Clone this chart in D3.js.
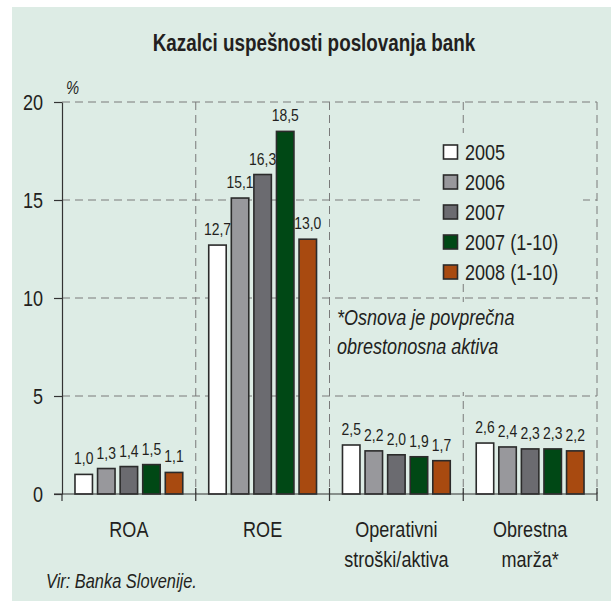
<!DOCTYPE html>
<html>
<head>
<meta charset="utf-8">
<script src="https://cdn.jsdelivr.net/npm/d3@7"></script>
<style>
  html, body { margin: 0; padding: 0; background: #ffffff; }
  svg { display: block; }
  text { font-family: "Liberation Sans", Arial, sans-serif; fill: #231f20; }
</style>
</head>
<body>
<script>
// ---- data ----
const categories = ["ROA", "ROE", "Operativni\nstroški/aktiva", "Obrestna\nmarža*"];
const seriesNames = ["2005", "2006", "2007", "2007 (1-10)", "2008 (1-10)"];
const values2005 = [1.0, 12.7, 2.5, 2.6];
const values2006 = [1.3, 15.1, 2.2, 2.4];
const values2007 = [1.4, 16.3, 2.0, 2.3];
const values2007p = [1.5, 18.5, 1.9, 2.3];
const values2008p = [1.1, 13.0, 1.7, 2.2];
const yTicks = [0, 5, 10, 15, 20];
const seriesColors = ["#ffffff", "#98989c", "#6b6b70", "#004815", "#a84a10"];
const titleText = "Kazalci uspešnosti poslovanja bank";
const noteLines = ["*Osnova je povprečna", "obrestonosna aktiva"];
const sourceText = "Vir: Banka Slovenije.";

const seriesValues = [values2005, values2006, values2007, values2007p, values2008p];

const W = 611, H = 601;
const NARROW = 0.82;
const bg = "#ddece5";
const svg = d3.select("body").append("svg").attr("width", W).attr("height", H);

// condensed text helper (horizontal squeeze to mimic a narrow face)
function ntext(parent, x, y, str, size, opts = {}) {
  const t = parent.append("text")
    .attr("transform", `translate(${x},${y}) scale(${NARROW},1)`)
    .attr("text-anchor", opts.anchor || "start")
    .style("font-size", size + "px")
    .text(str);
  if (opts.bold) t.style("font-weight", "bold");
  if (opts.italic) t.style("font-style", "italic");
  return t;
}

svg.append("rect").attr("x", 12).attr("y", 7).attr("width", W - 12).attr("height", H - 7).attr("fill", bg);

const x0 = d3.scaleBand().domain(categories).range([62, 597]).paddingInner(0).paddingOuter(0);
const x1 = d3.scaleBand().domain(seriesNames).range([0, x0.bandwidth()]).paddingInner(0.226).paddingOuter(0.575);
const y = d3.scaleLinear().domain([0, 20]).range([494, 102]);

const loc = d3.formatLocale({decimal: ",", thousands: ".", grouping: [3], currency: ["", "€"]});
const fmt = loc.format(".1f");

// title
ntext(svg, 314, 51, titleText, 23, {anchor: "middle", bold: true});

// gridlines
const grid = svg.append("g");
yTicks.filter(d => d > 0).forEach(t => {
  grid.append("line").attr("x1", 62).attr("x2", 597).attr("y1", y(t)).attr("y2", y(t))
    .attr("stroke", "#7a7a7a").attr("stroke-width", 1).attr("stroke-dasharray", "8,5");
});
const bounds = categories.map(c => x0(c) + x0.bandwidth());
bounds.forEach(bx => {
  grid.append("line").attr("x1", bx).attr("x2", bx).attr("y1", y(20)).attr("y2", y(0))
    .attr("stroke", "#7a7a7a").attr("stroke-width", 1).attr("stroke-dasharray", "8,5");
});

// legend & note backgrounds (hide grid)
svg.append("rect").attr("x", 420).attr("y", 133).attr("width", 163).attr("height", 147).attr("fill", bg);
svg.append("rect").attr("x", 334).attr("y", 302).attr("width", 252).attr("height", 90).attr("fill", bg);

// value labels (drawn beneath bars)
const flat = categories.map((c, ci) => seriesNames.map((s, si) => ({cat: c, ser: s, val: seriesValues[si][ci], si}))).flat();
const lblG = svg.append("g");
flat.forEach(d => {
  ntext(lblG, x0(d.cat) + x1(d.ser) + x1.bandwidth() / 2, y(d.val) - 10, fmt(d.val), 17, {anchor: "middle"});
});

// bars
svg.append("g").selectAll("rect").data(flat).join("rect")
  .attr("x", d => x0(d.cat) + x1(d.ser))
  .attr("y", d => y(d.val))
  .attr("width", x1.bandwidth())
  .attr("height", d => y(0) - y(d.val))
  .attr("fill", d => seriesColors[d.si])
  .attr("stroke", "#2b2b2b").attr("stroke-width", 1.6);

// y axis
const yAxis = svg.append("g").attr("transform", "translate(62,0)")
  .call(d3.axisLeft(y).tickValues(yTicks).tickSize(8).tickSizeOuter(0).tickPadding(11));
yAxis.attr("font-family", null).attr("font-size", null);
yAxis.select(".domain").attr("stroke", "#333").attr("stroke-width", 1.2);
yAxis.selectAll(".tick line").attr("stroke", "#333").attr("stroke-width", 1.2);
yAxis.selectAll(".tick text")
  .style("font-size", "22px").attr("fill", "#231f20")
  .attr("x", -19 / NARROW).attr("transform", `scale(${NARROW},1)`);
svg.append("line").attr("x1", 62).attr("x2", 62).attr("y1", y(0)).attr("y2", y(0) + 7).attr("stroke", "#333").attr("stroke-width", 1.2);

// x axis
svg.append("line").attr("x1", 54).attr("x2", 597).attr("y1", y(0)).attr("y2", y(0)).attr("stroke", "#333").attr("stroke-width", 1.2);
bounds.forEach(bx => {
  svg.append("line").attr("x1", bx).attr("x2", bx).attr("y1", y(0) - 6).attr("y2", y(0) + 7).attr("stroke", "#333").attr("stroke-width", 1.2);
});

// category labels
categories.forEach(c => {
  c.split("\n").forEach((l, i) => ntext(svg, x0(c) + x0.bandwidth() / 2, 537 + i * 30, l, 22, {anchor: "middle"}));
});

// percent sign
ntext(svg, 66, 94, "%", 18, {italic: true});

// legend
const lg = svg.append("g");
seriesNames.forEach((s, i) => {
  lg.append("rect").attr("x", 443.5).attr("y", 145 + i * 30).attr("width", 14).attr("height", 14)
    .attr("fill", seriesColors[i]).attr("stroke", "#2b2b2b").attr("stroke-width", 1.6);
  ntext(lg, 465, 159.5 + i * 30, s, 22);
});

// note
noteLines.forEach((l, i) => ntext(svg, 337, 325 + i * 29, l, 22, {italic: true}));

// source
ntext(svg, 46, 588, sourceText, 20, {italic: true});
</script>
</body>
</html>
